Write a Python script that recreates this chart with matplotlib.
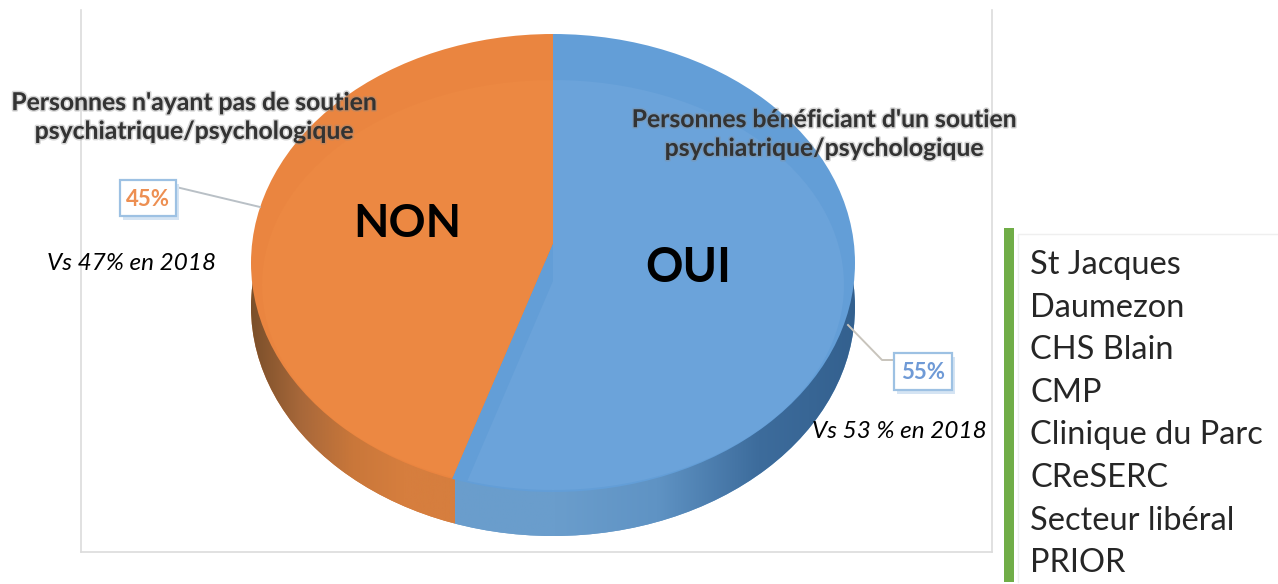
import numpy as np
import matplotlib
matplotlib.use('Agg')
import matplotlib.pyplot as plt
import matplotlib.patheffects as pe
from matplotlib.colors import LinearSegmentedColormap
from matplotlib.patches import Ellipse, Rectangle

# data
labels = ['OUI', 'NON']
shares = [55, 45]
share_labels = ['55%', '45%']
compare_2018 = ['Vs 53 % en 2018', 'Vs 47% en 2018']
lieux = ['St Jacques', 'Daumezon', 'CHS Blain', 'CMP', 'Clinique du Parc',
         'CReSERC', 'Secteur libéral', 'PRIOR']

W, H = 1278, 584
CX, CY, RX, RY = 553, 263, 302, 229
DEPTH = 44
FONT = ['Lato', 'DejaVu Sans']

top_cols = ['#639ed7', '#ea8540']
inner_blue = '#6ba3da'
inner_orange = '#ec8842'
rim_cols = ['#6a9dcc', '#d07a3c']


def ux(px):
    return (px - CX) / RX


def uy(py):
    return (CY - py) / RY


fig = plt.figure(figsize=(W / 100, H / 100), dpi=100)
ax = fig.add_axes([0, 0, 1, 1])


def fit_axes():
    ax.set_aspect('auto')
    ax.set_xlim(ux(0), ux(W))
    ax.set_ylim(uy(H), uy(0))
    ax.axis('off')


def pie_layer(center_py, colors, zorder, outline):
    # apex is not at the ellipse centre (perspective), so a bigger pie gets cut by the ellipse
    ax.add_patch(outline)
    w, _ = ax.pie(shares, colors=colors, startangle=90, counterclock=False,
                  center=(0, uy(center_py)), radius=1.35,
                  wedgeprops=dict(linewidth=0, zorder=zorder))
    fit_axes()
    for wedge in w:
        wedge.set_clip_on(True)
        wedge.set_clip_path(outline)
    return w


def inner_ellipse():
    return Ellipse((0, uy(285)), 2 * 291 / RX, 2 * 205 / RY, fc='none', ec='none')


# side of the disc
rim_outline = Ellipse((0, uy(CY + DEPTH)), 2, 2, fc='none', ec='none')
pie_layer(243 + DEPTH, rim_cols, 1, rim_outline)
stops = [['#6a9dcc', '#6a9dcc', '#5f93c4', '#3d6c9c', '#33608e'],
         ['#7a4f2a', '#a8683a', '#c9773a', '#d67e3e', '#d67e3e']]
ranges = [(455, 860), (250, 455)]
for st, (x0, x1) in zip(stops, ranges):
    cmap = LinearSegmentedColormap.from_list('rim', st)
    im = ax.imshow(np.linspace(0, 1, 256)[None, :], cmap=cmap, aspect='auto',
                   extent=[ux(x0), ux(x1), uy(CY + DEPTH + RY), uy(CY)], zorder=1.5)
    im.set_clip_path(rim_outline)
fit_axes()

# top face
top_outline = Ellipse((0, 0), 2, 2, fc='none', ec='none')
pie_layer(243, top_cols, 3, top_outline)

# lighter inner face, the blue one starts lower and leaves a darker sliver
pie_layer(281, [inner_blue, 'none'], 4, inner_ellipse())
pie_layer(243, ['none', inner_orange], 4, inner_ellipse())

# overlay in pixels for frames and text
ov = fig.add_axes([0, 0, 1, 1], zorder=5)
ov.set_xlim(0, W)
ov.set_ylim(H, 0)
ov.axis('off')

# chart frame
for xs, ys in [([81, 81], [10, 552]), ([81, 992], [552, 552]), ([992, 992], [10, 552])]:
    ov.plot(xs, ys, color='#dcdcdc', lw=1.2, zorder=0)
ov.plot([1018, 1018, W], [582, 234, 234], color='#efefef', lw=1.0, zorder=0)
ov.add_patch(Rectangle((1004, 228), 10, 354, fc='#70ad47', ec='none'))

# big labels
ov.text(407, 224, labels[1], fontsize=33, fontweight='bold', family=FONT,
        ha='center', va='center', color='black')
ov.text(688, 268, labels[0], fontsize=33.5, fontweight='bold', family=FONT,
        ha='center', va='center', color='black')

# captions
blur = [pe.withStroke(linewidth=2.2, foreground='#8a8a8a', alpha=0.35)]
ov.text(194, 117, "Personnes n'ayant pas de soutien\npsychiatrique/psychologique",
        fontsize=17.8, fontweight='bold', family=FONT, color='#333333', ha='center',
        va='center', linespacing=1.3, path_effects=blur)
ov.text(824, 134, "Personnes bénéficiant d'un soutien\npsychiatrique/psychologique",
        fontsize=17.8, fontweight='bold', family=FONT, color='#333333', ha='center',
        va='center', linespacing=1.3, path_effects=blur)

# callouts
ov.plot([176, 260], [187, 207], color='#b9c0c6', lw=1.4)
ov.plot([848, 882, 894], [325, 360, 360], color='#c8c4bc', lw=1.4)
for (x, y, w, h), txt, col in zip([(894, 353, 58, 37), (120, 180, 56, 36)], share_labels,
                                  ['#6f9ad6', '#ed8f52']):
    ov.add_patch(Rectangle((x + 3, y + 4), w, h, fc='#d5e4f3', ec='none', zorder=2))
    ov.add_patch(Rectangle((x, y), w, h, fc='white', ec='#9dc1e3', lw=1.6, zorder=3))
    ov.text(x + w / 2, y + h / 2 + 1, txt, fontsize=16, fontweight='bold', family=FONT,
            color=col, ha='center', va='center', zorder=4)

ov.text(899, 432, compare_2018[0], fontsize=17.5, style='italic', family=FONT,
        ha='center', va='center', color='black')
ov.text(132, 263, compare_2018[1], fontsize=17.5, style='italic', family=FONT,
        ha='center', va='center', color='black')

# list on the right
for i, name in enumerate(lieux):
    ov.text(1030, 265 + i * 42.6, name, fontsize=23.4, family=FONT, color='#262626',
            ha='left', va='center')

fig.savefig('out.png', dpi=100)
